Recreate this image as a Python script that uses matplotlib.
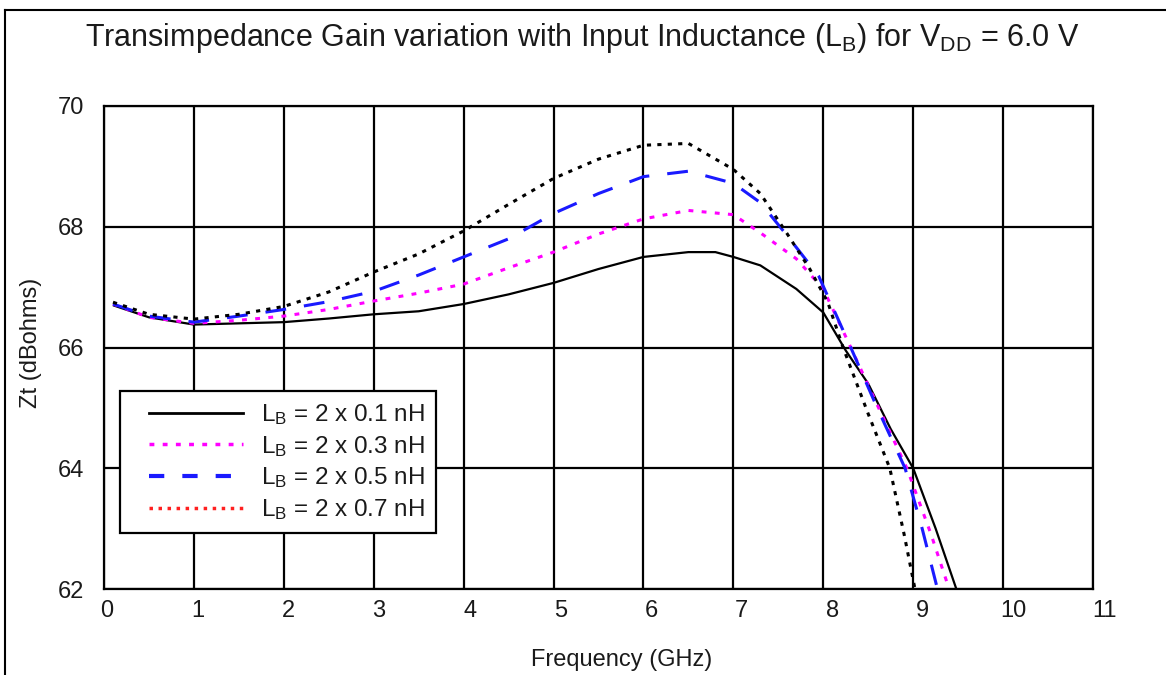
import matplotlib
matplotlib.use("Agg")
import matplotlib.pyplot as plt
from matplotlib.lines import Line2D
from matplotlib.legend_handler import HandlerLine2D
from matplotlib.transforms import ScaledTranslation

plt.rcParams['font.family'] = ['Liberation Sans', 'DejaVu Sans']
plt.rcParams['mathtext.fontset'] = 'custom'
plt.rcParams['mathtext.rm'] = 'Liberation Sans'
plt.rcParams['mathtext.it'] = 'Liberation Sans'
plt.rcParams['lines.scale_dashes'] = False

# curves (GHz, dBohms)
f_01 = [0.1, 0.5, 1, 1.5, 2, 2.5, 3, 3.5, 4, 4.5, 5, 5.5, 6, 6.5, 6.8, 7, 7.3, 7.7, 8, 8.25, 8.5, 8.75, 9, 9.25, 9.48]
zt_01 = [66.7, 66.5, 66.38, 66.4, 66.42, 66.48, 66.55, 66.6, 66.72, 66.88, 67.07, 67.3, 67.5, 67.58, 67.58, 67.5,
         67.36, 66.97, 66.58, 65.95, 65.4, 64.65, 64.0, 63.0, 62.0]

f_03 = [0.1, 0.5, 1, 1.5, 2, 2.5, 3, 3.5, 4, 4.5, 5, 5.5, 6, 6.5, 7, 7.3, 7.7, 8, 8.3, 8.6, 8.93, 9.2, 9.4]
zt_03 = [66.72, 66.5, 66.4, 66.45, 66.52, 66.63, 66.77, 66.9, 67.05, 67.32, 67.58, 67.88, 68.13, 68.27, 68.2,
         67.9, 67.47, 66.97, 66.02, 65.05, 64.0, 62.9, 62.0]

f_05 = [0.1, 0.5, 1, 1.5, 2, 2.5, 3, 3.5, 4, 4.5, 5, 5.5, 6, 6.5, 7, 7.3, 7.6, 7.95, 8.3, 8.6, 8.91, 9.1, 9.27]
zt_05 = [66.72, 66.52, 66.42, 66.52, 66.63, 66.76, 66.93, 67.2, 67.5, 67.8, 68.22, 68.55, 68.83, 68.92, 68.72,
         68.4, 67.85, 67.18, 66.02, 65.0, 64.0, 63.0, 62.0]

f_07 = [0.1, 0.5, 1, 1.5, 2, 2.5, 3, 3.5, 4, 4.5, 5, 5.5, 6, 6.5, 7, 7.3, 7.6, 7.85, 8.05, 8.22, 8.5, 8.74, 8.9, 9.02]
zt_07 = [66.75, 66.55, 66.47, 66.55, 66.68, 66.92, 67.25, 67.55, 67.93, 68.37, 68.8, 69.12, 69.35, 69.38, 68.95,
         68.55, 67.88, 67.3, 66.75, 66.0, 64.9, 64.0, 62.9, 62.0]

labels = [r'L$_\mathrm{B}$ = 2 x 0.1 nH', r'L$_\mathrm{B}$ = 2 x 0.3 nH',
          r'L$_\mathrm{B}$ = 2 x 0.5 nH', r'L$_\mathrm{B}$ = 2 x 0.7 nH']
xticks = list(range(0, 12))
yticks = [62, 64, 66, 68, 70]

fig = plt.figure(figsize=(11.66, 6.75), dpi=100)
ax = fig.add_axes([104 / 1166, 1 - 589 / 675, 989 / 1166, 483 / 675])

ax.plot(f_01, zt_01, color='black', lw=1.6, solid_capstyle='butt')
ax.plot(f_03, zt_03, color='#ff00ff', lw=2.2, dashes=(3.5, 6))
ax.plot(f_05, zt_05, color='#1a1aff', lw=2.2, dashes=(15, 13))
ax.plot(f_07, zt_07, color='black', lw=2.2, dashes=(3, 4.5))

ax.set_xlim(0, 11)
ax.set_ylim(62, 70)
ax.set_xticks(xticks)
ax.set_yticks(yticks)
ax.grid(True, color='black', lw=1.6)
ax.set_axisbelow(True)
for s in ax.spines.values():
    s.set_linewidth(1.6)
ax.tick_params(length=0, labelsize=17, labelcolor='#1a1a1a')
ax.tick_params(axis='x', pad=8)
ax.tick_params(axis='y', pad=14)
for i, lab in enumerate(ax.get_xticklabels()):
    lab.set_transform(lab.get_transform() + ScaledTranslation((3 + 0.75 * i) / 100, 0, fig.dpi_scale_trans))

ax.set_xlabel('Frequency (GHz)', fontsize=17, color='#1a1a1a')
ax.xaxis.set_label_coords(0.523, -0.147)
ax.xaxis.label.set_va('center')
ax.set_ylabel('Zt (dBohms)', fontsize=17, color='#1a1a1a')
ax.yaxis.set_label_coords(-0.074, 0.509)
ax.yaxis.label.set_va('center')

handles = [Line2D([], [], color='black', lw=2),
           Line2D([], [], color='#ff00ff', lw=2.5, dashes=(3.5, 6)),
           Line2D([], [], color='#1a1aff', lw=3, dashes=(11, 13)),
           Line2D([], [], color='#ff2020', lw=2.5, dashes=(2.5, 4))]
leg = ax.legend(handles, labels, loc='lower left', bbox_to_anchor=(0.016, 0.116), borderaxespad=0,
                fontsize=17.5, handlelength=4.6, handletextpad=0.75, borderpad=0.45, labelspacing=0.28,
                fancybox=False, framealpha=1, edgecolor='black',
                handler_map={Line2D: HandlerLine2D(xpad=0.75)})
leg.get_frame().set_linewidth(1.6)
for t in leg.get_texts():
    t.set_color('#1a1a1a')

fig.text(0.4996, 1 - 38 / 675,
         r'Transimpedance Gain variation with Input Inductance (L$_\mathrm{B}$) for V$_\mathrm{DD}$ = 6.0 V',
         ha='center', va='center', fontsize=22, color='#1a1a1a')

# page frame
fig.add_artist(Line2D([5 / 1166, 5 / 1166], [0, 1 - 10 / 675], color='black', lw=1.5, transform=fig.transFigure))
fig.add_artist(Line2D([5 / 1166, 1], [1 - 10 / 675, 1 - 10 / 675], color='black', lw=1.5, transform=fig.transFigure))

fig.savefig('out.png', dpi=100)
